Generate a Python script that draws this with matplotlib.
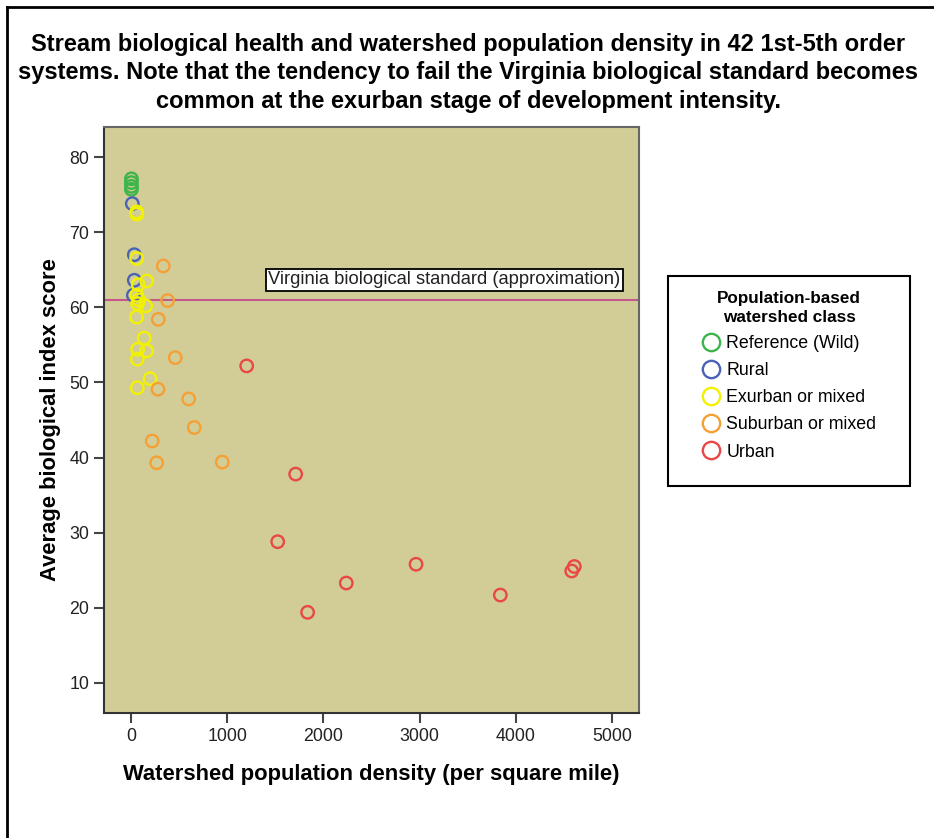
import matplotlib
matplotlib.use("Agg")
import matplotlib.pyplot as plt
from matplotlib.lines import Line2D
from matplotlib.patches import Rectangle

plt.rcParams['font.family'] = ['Liberation Sans', 'DejaVu Sans']

# data: (density per sq mile, biological index score)
ref_x = [5, 5, 5, 5]
ref_y = [77.1, 76.6, 76.1, 75.7]

rural_x = [14, 35, 35, 25]
rural_y = [73.8, 67.0, 63.6, 61.6]

exurban_x = [59, 62, 59, 163, 76, 59, 80, 69, 153, 59, 138, 69, 163, 66, 198, 66]
exurban_y = [72.7, 72.4, 66.5, 63.5, 63.0, 61.6, 61.0, 60.5, 60.2, 58.7, 55.9, 54.4, 54.2, 53.1, 50.5, 49.3]

suburban_x = [336, 381, 284, 461, 281, 600, 658, 221, 267, 949]
suburban_y = [65.5, 60.9, 58.4, 53.3, 49.1, 47.8, 44.0, 42.2, 39.3, 39.4]

urban_x = [1203, 1712, 1525, 2963, 2238, 1836, 3839, 4608, 4581]
urban_y = [52.2, 37.8, 28.8, 25.8, 23.3, 19.4, 21.7, 25.5, 24.9]

classes = ['Reference (Wild)', 'Rural', 'Exurban or mixed', 'Suburban or mixed', 'Urban']
colors = ['#3db54a', '#4b62b6', '#f2f200', '#f5a035', '#e84848']

va_standard = 61.0

fig = plt.figure(figsize=(9.34, 8.38), dpi=100)
ax = fig.add_axes([104/934, 1-713/838, 535/934, 586/838])
ax.set_facecolor('#d2cd97')

series = [(ref_x, ref_y), (rural_x, rural_y), (exurban_x, exurban_y),
          (suburban_x, suburban_y), (urban_x, urban_y)]
for (xs, ys), c in zip(series, colors):
    ax.scatter(xs, ys, s=80, facecolors='none', edgecolors=c, linewidths=1.7, zorder=3)

ax.axhline(va_standard, color='#c4588c', lw=1.5, zorder=2)
ax.text(1425, 63.65, 'Virginia biological standard (approximation)', fontsize=13.2,
        va='center', ha='left', color='#222222',
        bbox=dict(boxstyle='square,pad=0.12', fc='white', ec='black', lw=1.3), zorder=4)

ax.set_xlim(-280, 5280)
ax.set_ylim(6, 84)
ax.set_xticks([0, 1000, 2000, 3000, 4000, 5000])
ax.set_yticks([10, 20, 30, 40, 50, 60, 70, 80])
ax.tick_params(direction='out', length=7, width=1.5, color='#444444',
               labelsize=12.8, labelcolor='#222222')
for s in ['left', 'bottom']:
    ax.spines[s].set_color('#333333')
    ax.spines[s].set_linewidth(1.5)
for s in ['top', 'right']:
    ax.spines[s].set_color('#666666')
    ax.spines[s].set_linewidth(1.5)

ax.set_xlabel('Watershed population density (per square mile)', fontsize=15.8,
              fontweight='bold', labelpad=14)
ax.set_ylabel('Average biological index score', fontsize=15.8, fontweight='bold', labelpad=6)

fig.text(468/934, 1-73/838,
         'Stream biological health and watershed population density in 42 1st-5th order\n'
         'systems. Note that the tendency to fail the Virginia biological standard becomes\n'
         'common at the exurban stage of development intensity.',
         ha='center', va='center', fontsize=17, fontweight='bold', linespacing=1.28)

# legend box
fig.patches.append(Rectangle((668/934, 1-486/838), 242/934, 210/838, transform=fig.transFigure,
                             fc='white', ec='black', lw=1.5))
handles = [Line2D([], [], ls='none', marker='o', ms=12.5, mfc='none', mec=c, mew=1.7)
           for c in colors]
leg = fig.legend(handles, classes, loc='upper center', bbox_to_anchor=(789/934, 1-280/838),
                 frameon=False, fontsize=12.8, title='Population-based\nwatershed class',
                 title_fontproperties={'weight': 'bold', 'size': 12.3},
                 handletextpad=0.3, handlelength=1.1, labelspacing=0.57, borderpad=0.1)
leg.get_title().set_multialignment('center')
leg.get_title().set_linespacing(1.35)
leg._legend_box.align = 'center'

# outer border
fig.add_artist(Line2D([7/934, 7/934], [0, 1-7/838], transform=fig.transFigure, color='black', lw=2))
fig.add_artist(Line2D([7/934, 1], [1-7/838, 1-7/838], transform=fig.transFigure, color='black', lw=2))

fig.savefig('out.png', dpi=100)
